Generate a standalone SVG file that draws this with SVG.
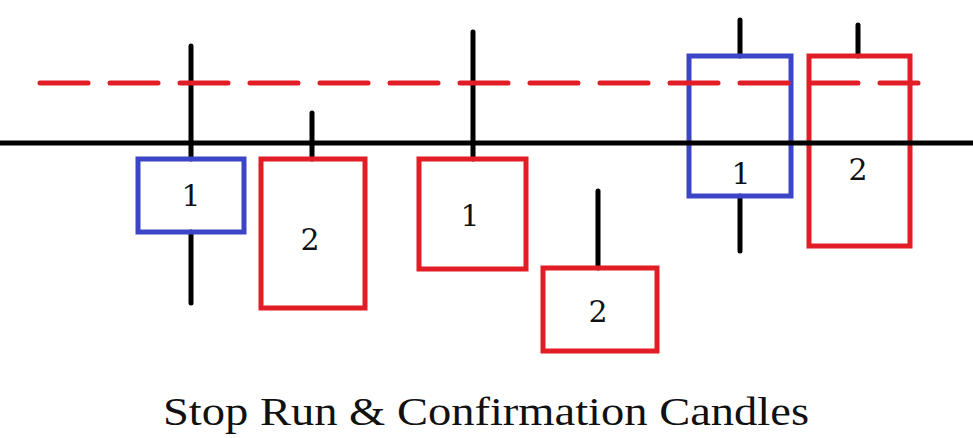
<svg xmlns="http://www.w3.org/2000/svg" width="973" height="438" viewBox="0 0 973 438">
<style>
.box{fill:none;stroke-width:5}
.blue{stroke:#3c45c6}
.red{stroke:#e21d26}
.wick{stroke:#000;stroke-width:5;stroke-linecap:round}
.num{font-family:"DejaVu Serif","Liberation Serif",serif;font-size:30px;fill:#111;text-anchor:middle}
.title{font-family:"Liberation Serif","DejaVu Serif",serif;font-size:41px;fill:#111}
</style>
<rect width="973" height="438" fill="#fff"/>
<g id="candle-a1">
<line class="wick" x1="191" y1="46" x2="191" y2="159"/>
<line class="wick" x1="191" y1="232" x2="191" y2="303"/>
<rect class="box blue" x="138" y="159" width="106" height="73"/>
<text class="num" x="191" y="206">1</text>
</g>
<g id="candle-a2">
<line class="wick" x1="312" y1="113" x2="312" y2="159"/>
<rect class="box red" x="261" y="159" width="104" height="149"/>
<text class="num" x="310" y="250">2</text>
</g>
<g id="candle-b1">
<line class="wick" x1="473" y1="32" x2="473" y2="159"/>
<rect class="box red" x="419" y="159" width="107" height="110"/>
<text class="num" x="470" y="226">1</text>
</g>
<g id="candle-b2">
<line class="wick" x1="598" y1="191" x2="598" y2="268"/>
<rect class="box red" x="543" y="268" width="114" height="83"/>
<text class="num" x="598" y="322">2</text>
</g>
<g id="candle-c1">
<line class="wick" x1="740" y1="20" x2="740" y2="56"/>
<line class="wick" x1="740" y1="196" x2="740" y2="251"/>
<rect class="box blue" x="689" y="56" width="102" height="140"/>
<text class="num" x="741" y="184">1</text>
</g>
<g id="candle-c2">
<line class="wick" x1="858" y1="25" x2="858" y2="56"/>
<rect class="box red" x="809" y="56" width="101" height="190"/>
<text class="num" x="858" y="180">2</text>
</g>
<g id="connectors">
<line x1="0" y1="143" x2="973" y2="143" stroke="#000" stroke-width="5"/>
<line x1="40" y1="83" x2="918" y2="83" stroke="#e21d26" stroke-width="5" stroke-linecap="round" stroke-dasharray="48 22"/>
</g>
<text class="title" x="163" y="425" textLength="646" lengthAdjust="spacingAndGlyphs">Stop Run &amp; Confirmation Candles</text>
</svg>
